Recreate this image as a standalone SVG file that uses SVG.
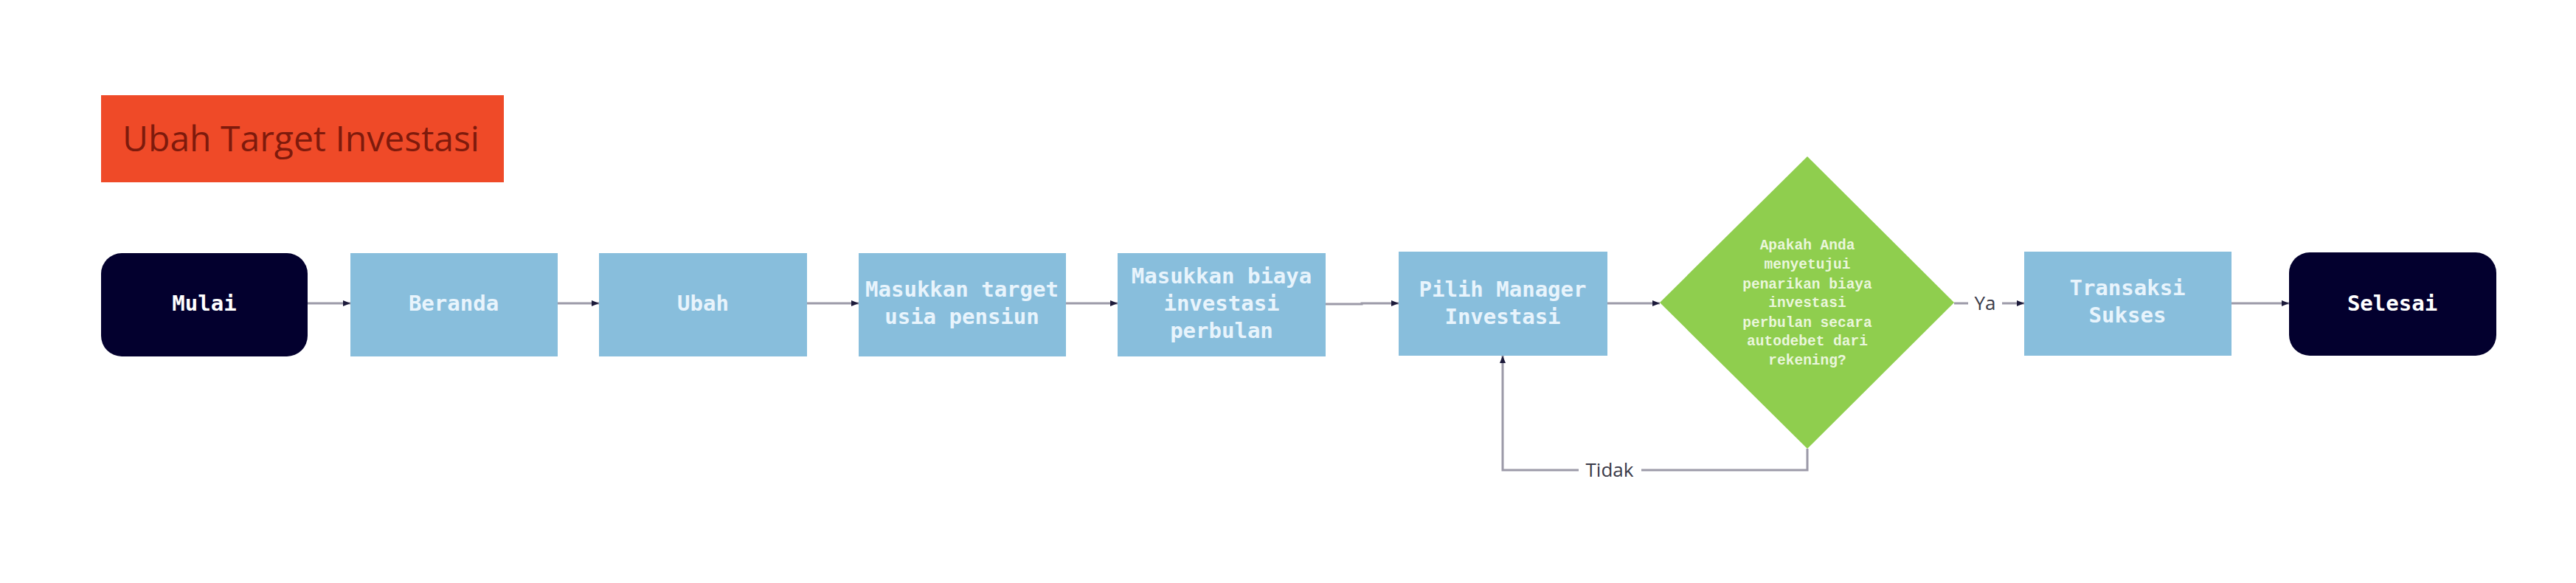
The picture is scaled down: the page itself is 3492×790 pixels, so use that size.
<svg xmlns="http://www.w3.org/2000/svg" width="3492" height="790" viewBox="0 0 3492 790">
<style>
.proc{fill:#88bedc}
.term{fill:#03002e}
.t{font-family:"DejaVu Sans Mono","Liberation Mono",monospace;font-weight:bold;font-size:29px;fill:#e8f4fc;text-anchor:middle}
.tw{fill:#ffffff}
.dt{font-family:"Liberation Mono","DejaVu Sans Mono",monospace;font-weight:bold;font-size:19.5px;fill:#eaf6dc;text-anchor:middle}
.lbl{font-family:"Open Sans","Liberation Sans",sans-serif;font-size:26px;fill:#3a3a48;text-anchor:middle}
.c{fill:none;stroke:#9c9aa8;stroke-width:3}
</style>
<defs>
<marker id="ah" viewBox="0 0 10 10" refX="10" refY="5" markerWidth="10" markerHeight="10" markerUnits="userSpaceOnUse" orient="auto">
<path d="M0,1 L10,5 L0,9 Z" fill="#1c1a3a"/>
</marker>
</defs>
<rect width="3492" height="790" fill="#ffffff"/>
<g id="title">
<rect x="137" y="129" width="546" height="118" fill="#ef4a28"/>
<text x="408" y="205" font-family="'Open Sans','Liberation Sans',sans-serif" font-size="47" fill="#7e1a0c" text-anchor="middle" textLength="484" lengthAdjust="spacingAndGlyphs">Ubah Target Investasi</text>
</g>
<g id="connectors">
<path class="c" d="M417,411 H475" marker-end="url(#ah)"/>
<path class="c" d="M756,411 H812" marker-end="url(#ah)"/>
<path class="c" d="M1094,411 H1164" marker-end="url(#ah)"/>
<path class="c" d="M1445,411 H1515" marker-end="url(#ah)"/>
<path class="c" d="M1797,412 H1846 V411 H1896" marker-end="url(#ah)"/>
<path class="c" d="M2179,411 H2250" marker-end="url(#ah)"/>
<path class="c" d="M2649,411 H2668"/>
<path class="c" d="M2714,411 H2744" marker-end="url(#ah)"/>
<path class="c" d="M3025,411 H3103" marker-end="url(#ah)"/>
<path class="c" d="M2450,608 V637 H2225"/>
<path class="c" d="M2140,637 H2037 V482" marker-end="url(#ah)"/>
<text class="lbl" x="2182" y="646">Tidak</text>
<text class="lbl" x="2691" y="420">Ya</text>
</g>
<g id="mulai">
<rect class="term" x="137" y="343" width="280" height="140" rx="28"/>
<text class="t tw" x="277" y="421">Mulai</text>
</g>
<g id="beranda">
<rect class="proc" x="475" y="343" width="281" height="140"/>
<text class="t" x="615" y="421">Beranda</text>
</g>
<g id="ubah">
<rect class="proc" x="812" y="343" width="282" height="140"/>
<text class="t" x="953" y="421">Ubah</text>
</g>
<g id="target">
<rect class="proc" x="1164" y="343" width="281" height="140"/>
<text class="t" x="1304" y="402">Masukkan target</text>
<text class="t" x="1304" y="439">usia pensiun</text>
</g>
<g id="biaya">
<rect class="proc" x="1515" y="343" width="282" height="140"/>
<text class="t" x="1656" y="384">Masukkan biaya</text>
<text class="t" x="1656" y="421">investasi</text>
<text class="t" x="1656" y="458">perbulan</text>
</g>
<g id="manager">
<rect class="proc" x="1896" y="341" width="283" height="141"/>
<text class="t" x="2037" y="402">Pilih Manager</text>
<text class="t" x="2037" y="439">Investasi</text>
</g>
<g id="keputusan">
<polygon points="2450,212 2649,410 2450,608 2250,410" fill="#8fce4e"/>
<text class="dt" x="2450" y="338">Apakah Anda</text>
<text class="dt" x="2450" y="364">menyetujui</text>
<text class="dt" x="2450" y="391">penarikan biaya</text>
<text class="dt" x="2450" y="416">investasi</text>
<text class="dt" x="2450" y="443">perbulan secara</text>
<text class="dt" x="2450" y="468">autodebet dari</text>
<text class="dt" x="2450" y="494">rekening?</text>
</g>
<g id="sukses">
<rect class="proc" x="2744" y="341" width="281" height="141"/>
<text class="t" x="2884" y="400">Transaksi</text>
<text class="t" x="2884" y="437">Sukses</text>
</g>
<g id="selesai">
<rect class="term" x="3103" y="342" width="281" height="140" rx="28"/>
<text class="t tw" x="3243" y="421">Selesai</text>
</g>
</svg>
